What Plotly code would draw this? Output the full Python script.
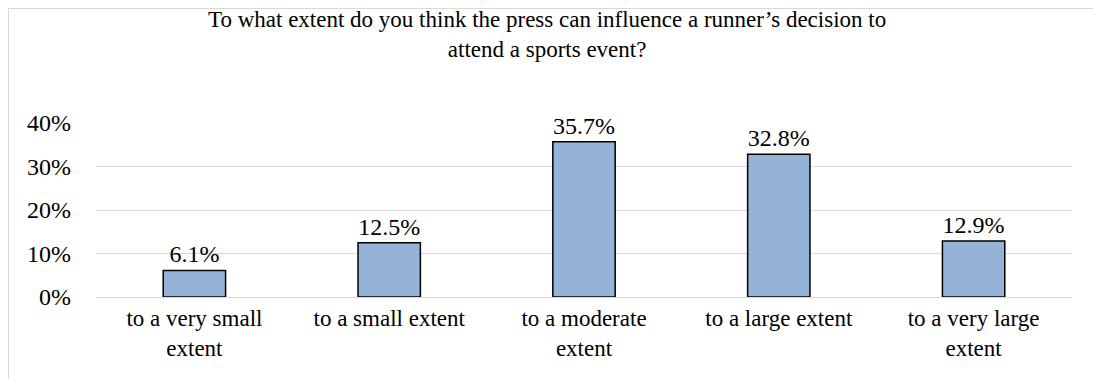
import plotly.graph_objects as go

categories = [
    "to a very small<br>extent",
    "to a small extent",
    "to a moderate<br>extent",
    "to a large extent",
    "to a very large<br>extent",
]
values = [6.1, 12.5, 35.7, 32.8, 12.9]
y_ticks = [0, 10, 20, 30, 40]
y_tick_labels = [f"{t}%" for t in y_ticks]

title_text = ("To what extent do you think the press can influence a runner\u2019s decision to"
              "<br>attend a sports event?")

FONT = "Liberation Serif"

W, H = 1093, 379
ML, MR, MT, MB = 97, 22, 123, 82
pw = W - ML - MR
ph = H - MT - MB


def py(ypix):
    """Pixel row (from top) to paper y."""
    return (H - MB - ypix) / ph


def px(xpix):
    """Pixel column (from left) to paper x."""
    return (xpix - ML) / pw


fig = go.Figure(
    go.Bar(
        x=categories,
        y=values,
        width=0.32,
        marker=dict(color="#95B3D7", line=dict(color="#000000", width=1.5)),
        text=[f"{v:.1f}%" for v in values],
        textposition="outside",
        textfont=dict(family=FONT, size=24, color="#000000"),
        cliponaxis=False,
    )
)

# outer chart frame
fig.add_shape(
    type="rect", xref="paper", yref="paper",
    x0=px(8.5), x1=px(W + 20), y0=py(H + 20), y1=py(8.5),
    line=dict(color="#D9D9D9", width=1), fillcolor="rgba(0,0,0,0)", layer="below",
)

# two-line chart title
fig.add_annotation(
    text=title_text, xref="paper", yref="paper", x=px(W / 2), y=py(35),
    xanchor="center", yanchor="middle", showarrow=False,
    font=dict(family=FONT, size=23, color="#000000"),
)

fig.update_layout(
    width=W, height=H,
    margin=dict(l=ML, r=MR, t=MT, b=MB),
    paper_bgcolor="white", plot_bgcolor="white",
    showlegend=False,
    font=dict(family=FONT, color="#000000"),
)
fig.update_xaxes(
    showgrid=False, showline=False, ticks="", ticklabelstandoff=5,
    tickfont=dict(family=FONT, size=23, color="#000000"),
)
fig.update_yaxes(
    range=[0, 40], tickmode="array", tickvals=y_ticks, ticktext=y_tick_labels,
    showgrid=True, gridcolor="#D9D9D9", gridwidth=1,
    zeroline=True, zerolinecolor="#D9D9D9", zerolinewidth=1,
    showline=False, ticks="", ticklabelstandoff=25,
    tickfont=dict(family=FONT, size=24, color="#000000"),
)

fig.write_html("out.html")
